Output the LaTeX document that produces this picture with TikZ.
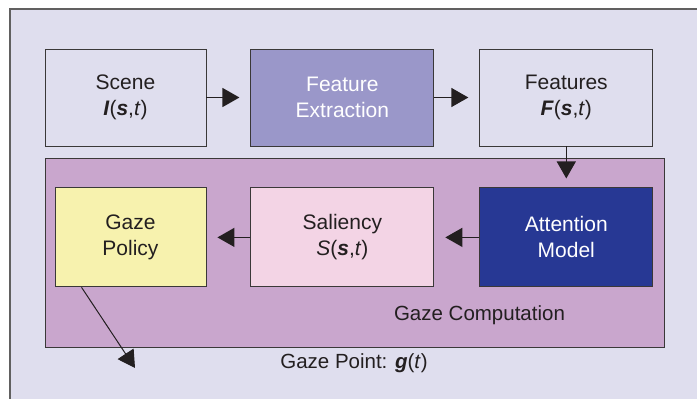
\documentclass[tikz,border=0pt]{standalone}
\usepackage{fontspec}
\setmainfont{Liberation Sans}
\usetikzlibrary{positioning, calc, arrows.meta}
\definecolor{Ink}{HTML}{231F20}
\definecolor{Edge}{HTML}{3A3838}
\definecolor{Frame}{HTML}{DFDEEE}
\definecolor{Extract}{HTML}{9A97C9}
\definecolor{Compute}{HTML}{C9A6CD}
\definecolor{Policy}{HTML}{F7F2AE}
\definecolor{Salient}{HTML}{F3D4E5}
\definecolor{Attend}{HTML}{273894}
\tikzset{
    block/.style={rectangle, draw=Edge, line width=0.9pt, text=Ink, align=center, inner sep=0pt, minimum height=97pt, font=\fontsize{21}{26}\selectfont},
    darkblock/.style={block, text=white},
    caption/.style={text=Ink, inner sep=0pt, font=\fontsize{20.5}{24}\selectfont},
    arrow/.style={-{Triangle[length=17pt,width=19pt]}, line width=1.3pt, color=Ink, shorten >=11pt},
}
\newcommand{\bvec}[1]{\textbf{\textit{#1}}}

\begin{document}
\begin{tikzpicture}[x=1pt, y=-1pt, node distance=44pt]
        \useasboundingbox (0,0) rectangle (697,399);
        \fill[Frame] (10,9) rectangle (697,399);
        \draw[line width=1.4pt, color=Edge!80] (10,399) -- (10,9) -- (697,9);

        % gaze computation stage
        \node[block, fill=Compute, minimum width=619pt, minimum height=189pt] (comp) at (354.5,252.5) {};
        \node[caption] (complabel) at (479.5,315) {Gaze Computation};

        % top row
        \node[block, minimum width=161pt] (scene) at (125.5,97.5) {Scene\\\bvec{I}(\bvec{s},\textit{t})};
        \node[darkblock, fill=Extract, right=of scene, minimum width=183pt] (extract) {Feature\\Extraction};
        \node[block, right=45pt of extract, minimum width=173pt] (features) {Features\\\bvec{F}(\bvec{s},\textit{t})};

        % bottom row
        \node[darkblock, fill=Attend, below=41pt of features, minimum width=173pt, minimum height=99pt] (attention) {Attention\\Model};
        \node[block, fill=Salient, left=45pt of attention, minimum width=183pt, minimum height=99pt] (saliency) {Saliency\\\textit{S}(\bvec{s},\textit{t})};
        \node[block, fill=Policy, left=of saliency, minimum width=151pt, minimum height=99pt] (policy) {Gaze\\Policy};

        \node[caption] (gazept) at (354,363) {Gaze Point: \bvec{g}(\textit{t})};
        \coordinate (gazetip) at (135,368);

        \draw[arrow] (scene) -- (extract);
        \draw[arrow] (extract) -- (features);
        \draw[arrow, shorten >=9pt] (features) -- (attention);
        \draw[arrow] (attention) -- (saliency);
        \draw[arrow] (saliency) -- (policy);
        \draw[arrow, line width=1pt, shorten >=0pt] ($(policy.south west)+(27,0)$) -- (gazetip);
    \end{tikzpicture}
\end{document}
